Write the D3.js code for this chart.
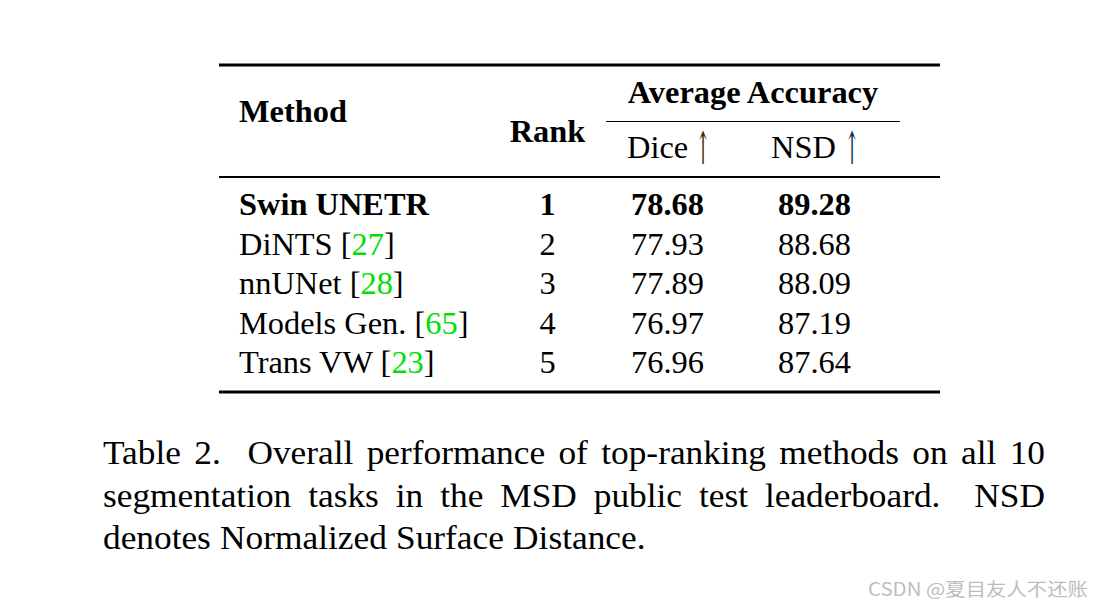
<!DOCTYPE html>
<html>
<head>
<meta charset="utf-8">
<script src="https://cdn.jsdelivr.net/npm/d3@7"></script>
<style>
  html, body { margin: 0; padding: 0; background: #ffffff; }
  svg { display: block; }
</style>
</head>
<body>
<svg id="chart" width="1095" height="607"></svg>
<script>
// ---- data ----
const methods = ["Swin UNETR", "DiNTS", "nnUNet", "Models Gen.", "Trans VW"];
const refs = [null, "27", "28", "65", "23"];
const ranks = [1, 2, 3, 4, 5];
const diceValues = ["78.68", "77.93", "77.89", "76.97", "76.96"];
const nsdValues = ["89.28", "88.68", "88.09", "87.19", "87.64"];
const columnHeaders = ["Method", "Rank", "Dice", "NSD"];
const groupHeader = "Average Accuracy";
const captionLines = [
  "Table 2.  Overall performance of top-ranking methods on all 10",
  "segmentation tasks in the MSD public test leaderboard.  NSD",
  "denotes Normalized Surface Distance."
];
const watermark = "CSDN @夏目友人不还账";

// ---- layout ----
const svg = d3.select("#chart");
const FONT = "'Liberation Serif', 'Times New Roman', serif";
const FS = 32.4;

const tableLeft = 219, tableRight = 940;

const colX = d3.scaleOrdinal()
  .domain(["Method", "Rank", "Dice", "NSD"])
  .range([239, 547.5, 667.5, 814.5]);

const rowY = d3.scalePoint()
  .domain(ranks)
  .range([215, 373]);

const rules = [
  { x1: tableLeft, x2: tableRight, y: 65, w: 2.8 },
  { x1: 606, x2: 900, y: 121.5, w: 1.2 },
  { x1: tableLeft, x2: tableRight, y: 177, w: 2 },
  { x1: tableLeft, x2: tableRight, y: 392, w: 2.8 }
];
svg.selectAll("line.rule").data(rules).join("line")
  .attr("class", "rule")
  .attr("x1", d => d.x1).attr("x2", d => d.x2)
  .attr("y1", d => d.y).attr("y2", d => d.y)
  .attr("stroke", "#000").attr("stroke-width", d => d.w);

const txt = (x, y, s, opts = {}) => svg.append("text")
  .attr("x", x).attr("y", y)
  .attr("font-family", FONT)
  .attr("font-size", opts.size || FS)
  .attr("font-weight", opts.bold ? "bold" : "normal")
  .attr("text-anchor", opts.anchor || "start")
  .attr("fill", opts.fill || "#000")
  .text(s);

// headers
txt(colX("Method"), 122, columnHeaders[0], { bold: true });
txt(colX("Rank"), 142, columnHeaders[1], { bold: true, anchor: "middle" });
txt(753, 103, groupHeader, { bold: true, anchor: "middle" });

const subHead = (name, startOff, arrowOff, color) => {
  const cx = colX(name);
  txt(cx + startOff, 158, name);
  svg.append("text")
    .attr("transform", `translate(${cx + arrowOff},164) scale(0.6,1.5)`)
    .attr("font-family", "'DejaVu Serif', serif")
    .attr("font-size", 30)
    .attr("text-anchor", "middle")
    .attr("fill", color)
    .text("↑");
};
subHead("Dice", -40.5, 35.5, "#4a2a0c");
subHead("NSD", -43.5, 37.5, "#0f3358");

// body rows
const rows = ranks.map((r, i) => ({
  rank: r, method: methods[i], ref: refs[i], dice: diceValues[i], nsd: nsdValues[i], bold: i === 0
}));

const g = svg.append("g")
  .attr("font-family", FONT).attr("font-size", FS);

rows.forEach(d => {
  const y = rowY(d.rank);
  const w = d.bold ? "bold" : "normal";
  const m = g.append("text").attr("x", colX("Method")).attr("y", y).attr("font-weight", w);
  m.append("tspan").text(d.method);
  if (d.ref) {
    m.append("tspan").text(" [");
    m.append("tspan").attr("fill", "#00e000").text(d.ref);
    m.append("tspan").text("]");
  }
  g.append("text").attr("x", colX("Rank")).attr("y", y).attr("text-anchor", "middle")
    .attr("font-weight", w).text(d.rank);
  g.append("text").attr("x", colX("Dice")).attr("y", y).attr("text-anchor", "middle")
    .attr("font-weight", w).text(d.dice);
  g.append("text").attr("x", colX("NSD")).attr("y", y).attr("text-anchor", "middle")
    .attr("font-weight", w).text(d.nsd);
});

// caption (justified lines 1-2); glyphs slightly wider than natural
const capLeft = 103, capRight = 1045;
const capY = [464, 507, 549];
const capFS = 33;
const stretch = 1.07;
captionLines.forEach((line, li) => {
  const words = line.split(/\s+/);
  const justify = li < captionLines.length - 1;
  const tmp = [];
  let total = 0;
  words.forEach(wd => {
    const t = svg.append("text").attr("font-family", FONT).attr("font-size", capFS)
      .attr("y", capY[li]).text(wd);
    const w = t.node().getComputedTextLength() * stretch;
    t.attr("textLength", w).attr("lengthAdjust", "spacingAndGlyphs");
    tmp.push({ t, w });
    total += w;
  });
  const spaceUnits = words.slice(0, -1).map(wd => (wd === "2." || wd === "leaderboard." ? 2 : 1));
  const units = d3.sum(spaceUnits);
  const sp = justify ? (capRight - capLeft - total) / units : capFS * 0.28;
  let x = capLeft;
  tmp.forEach((o, i) => {
    o.t.attr("x", x);
    x += o.w + (i < spaceUnits.length ? spaceUnits[i] * sp : 0);
  });
});

// watermark
svg.append("text")
  .attr("x", 868).attr("y", 596)
  .attr("font-family", "'Noto Sans CJK SC', 'Noto Sans', sans-serif")
  .attr("font-size", 18)
  .attr("fill", "#bdbdbd")
  .attr("textLength", 220)
  .attr("lengthAdjust", "spacingAndGlyphs")
  .text(watermark);
</script>
</body>
</html>
